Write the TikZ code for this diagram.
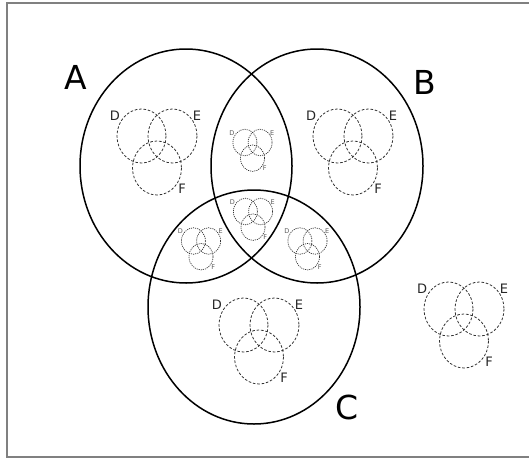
\documentclass[tikz,border=0pt]{standalone}
\usepackage{fontspec}
\setmainfont{DejaVu Sans}
\usetikzlibrary{shapes.geometric}
\begin{document}
\begin{tikzpicture}[x=1pt,y=-1pt,
  big/.style={draw=black,line width=1.5pt,ellipse,inner sep=0pt,
    minimum width=212pt,minimum height=234pt},
  biglabel/.style={font=\fontsize{33}{33}\selectfont,inner sep=0pt},
  vline/.style={draw=black!80,line width=0.8pt,dash pattern=on 2.6pt off 1.8pt},
  vlab/.style={font=\fontsize{13}{13}\selectfont,text=black!85,inner sep=0pt},
  smallv/.style={scale=0.49,
    vline/.style={draw=black!80,line width=0.7pt,dash pattern=on 1.1pt off 1pt},
    vlab/.style={font=\fontsize{6.5}{6.5}\selectfont,text=black!65,inner sep=0pt}},
  venn/.pic={
    \draw[vline] (-15.5,0) ellipse [x radius=24.5, y radius=27];
    \draw[vline] (15.5,0) ellipse [x radius=24.5, y radius=27];
    \draw[vline] (0,32) ellipse [x radius=24.5, y radius=27];
    \node[vlab] (-D) at (-42,-20) {D};
    \node[vlab] (-E) at (40,-20) {E};
    \node[vlab] (-F) at (25,53) {F};
  }
]
\useasboundingbox (0,0) rectangle (529,458);
\draw[gray,line width=1.3pt] (7,3) rectangle (532,457);

\node[big] (A) at (186,166) {};
\node[big] (B) at (317,166) {};
\node[big] (C) at (254,307) {};

\node[biglabel] (lA) at (75.5,77.5) {A};
\node[biglabel] (lB) at (425,82) {B};
\node[biglabel] (lC) at (347,407) {C};

\pic (vA) at (157,136) {venn};
\pic (vB) at (353,136) {venn};
\pic (vC) at (259,325) {venn};
\pic (vO) at (464,309) {venn};

\pic[smallv] (vAB) at (252.5,142.5) {venn};
\pic[smallv] (vABC) at (253,211.5) {venn};
\pic[smallv] (vAC) at (201,241) {venn};
\pic[smallv] (vBC) at (307.5,241) {venn};
\end{tikzpicture}
\end{document}
